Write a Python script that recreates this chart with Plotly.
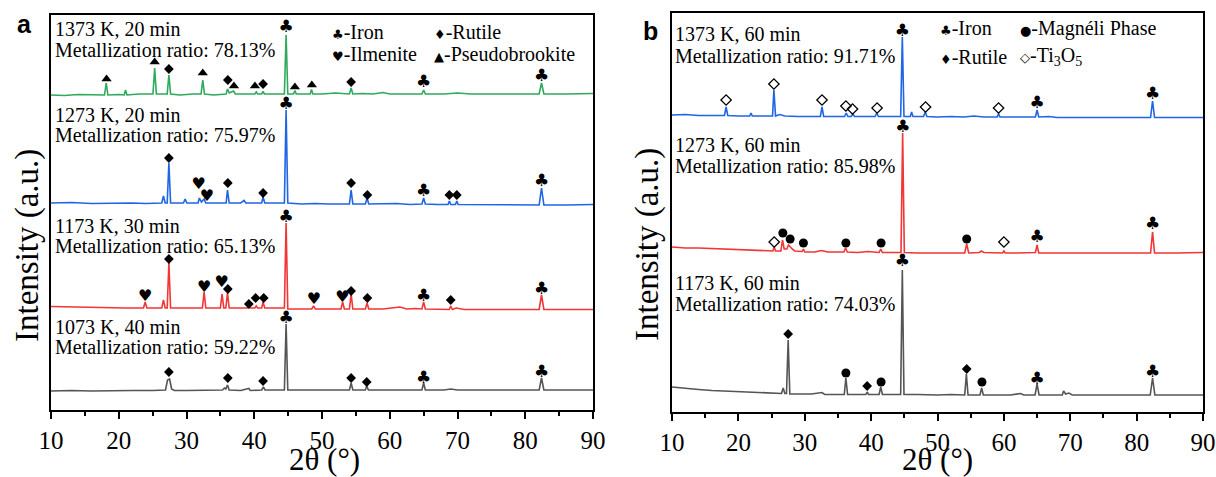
import plotly.graph_objects as go

# ---------------- DATA (2theta in degrees, intensity in arbitrary stacked units) ----------------
# Panel a
A1373_20 = [(10, 315), (12, 314.5), (14, 315.5), (16, 315), (17.9, 315), (18.15, 327), (18.4, 315), (20, 315.5),
            (20.8, 315), (21.0, 320), (21.2, 315), (23, 316), (25.05, 316), (25.3, 342), (25.55, 316), (27.15, 316),
            (27.4, 335), (27.65, 316), (29, 315), (31, 316), (32.15, 316), (32.4, 330), (32.65, 316), (34, 315),
            (35.85, 316), (36.05, 321), (36.3, 317), (36.95, 319), (37.2, 316), (39, 316), (40.1, 316), (40.3, 318),
            (40.5, 316), (41.1, 316), (41.3, 318.5), (41.5, 316), (43, 316), (44.45, 316), (44.7, 375), (44.95, 316),
            (45.8, 316), (46.0, 319.5), (46.2, 316), (47.5, 316), (48.25, 316), (48.45, 320.5), (48.65, 316), (50, 316),
            (52, 317), (54.05, 316), (54.3, 322), (54.55, 316), (56, 316.5), (57.5, 316), (59, 317.5), (60, 316),
            (62, 316), (64.75, 316), (65.0, 320), (65.25, 316), (68, 316), (70, 317), (72, 316), (75, 316), (78, 316),
            (82.05, 316), (82.4, 327), (82.75, 316), (86, 316), (90, 316.5)]
A1273_20 = [(10, 207), (13, 207.5), (16, 206.5), (19, 207), (22, 207), (24, 206.5), (26.35, 207), (26.6, 214),
            (26.85, 207), (27.15, 207), (27.4, 247), (27.65, 207), (29.55, 207), (29.8, 211), (30.05, 207),
            (31.7, 207), (31.9, 212), (32.2, 208), (32.6, 211), (32.85, 207), (34, 207), (35.85, 207), (36.05, 220),
            (36.3, 207), (38, 207), (38.5, 209.5), (38.75, 207), (40, 207), (41.1, 207), (41.3, 213), (41.55, 207),
            (43, 207), (44.45, 207), (44.7, 300), (44.95, 207), (47, 206), (49, 206.5), (51, 206), (52.5, 206),
            (54.05, 206), (54.3, 220), (54.55, 206), (56.4, 206), (56.65, 212), (56.9, 206), (59, 206), (61, 206.5),
            (63, 205.5), (64.75, 206), (65.0, 212), (65.25, 206), (67, 205.5), (68.6, 205.5), (68.8, 209),
            (69.0, 205.5), (69.7, 205.5), (69.9, 209), (70.1, 205.5), (73, 205.5), (76, 205), (79, 205.5),
            (82.05, 205), (82.4, 222), (82.75, 205), (86, 205), (90, 205.5)]
A1173_30 = [(10, 103.5), (13, 103), (16, 102.5), (19, 102), (21, 102), (23.65, 102), (23.9, 108), (24.15, 102),
            (26.35, 102), (26.6, 110), (26.85, 102), (27.15, 102), (27.4, 147), (27.65, 102), (29, 102), (31, 102),
            (32.35, 102), (32.6, 118), (32.85, 102), (35.0, 102), (35.25, 116), (35.5, 102), (35.8, 102),
            (36.05, 117), (36.3, 102), (38, 102), (39.0, 102), (39.2, 103.5), (39.4, 102), (40.1, 102), (40.3, 104),
            (40.5, 102), (41.1, 102), (41.3, 108), (41.55, 102), (43, 102), (44.45, 102), (44.7, 187), (44.95, 101),
            (47, 101), (48.5, 101), (48.75, 104), (49.0, 101), (51, 101), (52.8, 101), (53.05, 108), (53.3, 101),
            (54.05, 101), (54.3, 116), (54.55, 101), (56.4, 101), (56.65, 107), (56.9, 101), (59, 101), (61.5, 103),
            (62.5, 101), (63.8, 101.5), (64.75, 101), (65.0, 108), (65.25, 101), (67, 100.5), (68.8, 100.5),
            (69.0, 104), (69.25, 100.5), (69.8, 102), (71, 100.5), (75, 100.5), (79, 100.5), (82.05, 100.5),
            (82.4, 115), (82.75, 100.5), (86, 100.5), (90, 100.5)]
A1073_40 = [(10, 19), (13, 19.5), (16, 19), (19, 19.5), (22, 19.5), (25, 19.5), (26.9, 20), (27.2, 30), (27.5, 31),
            (27.8, 21), (28.2, 19.5), (30, 19.5), (33, 19.5), (35.3, 20), (35.6, 22), (35.8, 21), (36.05, 25),
            (36.3, 20), (38, 19.5), (39.2, 21.5), (39.4, 19.5), (41.1, 20), (41.35, 23), (41.6, 20), (43, 20),
            (44.45, 20), (44.7, 86), (44.95, 20), (47, 20), (50, 20), (52, 20.5), (54.05, 20), (54.3, 27),
            (54.55, 20), (56.4, 20), (56.6, 24), (56.85, 20), (59, 20), (62, 20), (64.75, 20), (65.0, 27),
            (65.25, 20), (68, 20), (69, 21), (70, 20), (74, 20), (78, 20), (82.05, 20), (82.4, 32), (82.75, 20),
            (86, 20), (90, 20)]

# Panel b
B1373_60 = [(10, 297), (12, 297.5), (14, 296.5), (16, 296.5), (17.9, 296.5), (18.15, 305), (18.4, 296.5), (20, 296),
            (21.7, 296), (21.9, 299), (22.1, 296), (24, 296), (25.15, 296), (25.35, 322), (25.6, 296), (26.2, 297.5),
            (27, 296), (29, 295.5), (31, 295.5), (32.35, 295.5), (32.6, 305), (32.85, 295.5), (34, 295.5),
            (36.0, 295.5), (36.25, 299), (36.5, 295.5), (37.0, 295.5), (37.25, 298), (37.5, 295.5), (39, 295.5),
            (40.6, 295.5), (40.85, 299), (41.1, 295.5), (42.5, 295.5), (44.45, 295.5), (44.7, 375), (44.95, 295.5),
            (45.9, 295.5), (46.1, 300), (46.3, 295.5), (47.9, 295.5), (48.15, 300), (48.4, 295.5), (50, 295),
            (52, 295.5), (54, 295), (55.5, 296), (57, 295), (59.0, 295), (59.2, 298.5), (59.4, 295), (61, 295),
            (63, 295), (64.75, 295), (65.0, 302), (65.25, 295), (66.8, 295.5), (68, 294.5), (71, 294.5),
            (74, 294.5), (77, 294.5), (80, 294.5), (82.1, 294.5), (82.4, 311), (82.7, 294.5), (86, 294.5), (90, 294.5)]
B1273_60 = [(10, 165), (12, 164), (14, 164), (16, 163.5), (18, 163), (20, 162.5), (22, 162), (24, 161), (25.2, 161),
            (25.4, 165), (25.6, 161), (26.4, 161), (26.65, 172), (26.9, 163), (27.3, 163), (27.55, 167), (27.8, 165),
            (28.1, 163), (28.5, 161), (29.6, 160.5), (29.8, 163), (30.0, 160), (31.5, 160), (32.5, 161.5),
            (33.5, 160), (35.9, 160), (36.15, 164), (36.4, 160), (38, 159.5), (39.5, 160.5), (41.2, 159.5),
            (41.45, 163), (41.7, 159.5), (43, 159.5), (44.5, 159.5), (44.75, 279), (45.0, 159.5), (47, 159),
            (50, 159), (52, 159), (54.1, 159), (54.4, 168), (54.7, 159), (56.3, 159.5), (56.6, 161), (57, 159.5),
            (59.8, 159), (60.0, 161), (60.2, 159), (62, 159), (63.5, 159.5), (64.75, 159.5), (65.0, 167),
            (65.25, 159), (67, 159), (70, 159), (74, 159), (78, 159), (82.1, 159), (82.4, 180), (82.7, 159),
            (86, 159), (90, 159.5)]
B1173_60 = [(10, 25), (12, 23.5), (14, 22.5), (16, 21.5), (18, 21), (20, 20), (22, 19.5), (24, 19), (26.5, 18.5),
            (26.75, 24), (27.0, 18.5), (27.25, 18.5), (27.5, 72), (27.75, 18), (29, 18), (31, 18), (32.6, 19.5),
            (33, 17.5), (35, 17.5), (35.95, 17.5), (36.2, 34), (36.45, 17.5), (38, 17.5), (39.2, 17.5), (39.4, 20),
            (39.6, 17.5), (41.2, 17.5), (41.45, 25), (41.7, 17.5), (43, 17.5), (44.45, 17.5), (44.7, 142),
            (44.95, 17.5), (47, 17.5), (50, 17), (52, 17.5), (54.1, 17), (54.35, 38), (54.6, 17), (56.4, 17),
            (56.65, 24), (56.9, 17), (59, 17), (61, 17), (62.5, 18.5), (63, 17), (64.7, 17), (65.0, 28), (65.3, 17),
            (67, 17), (68.8, 17), (69.0, 21), (69.3, 18), (69.8, 19), (70.3, 17), (73, 17), (77, 17), (80, 17),
            (82.05, 17), (82.4, 34), (82.75, 17), (86, 17), (90, 17)]

# Phase marker positions (2theta, height)
A_IRON = [(44.7, 382), (65.0, 327), (82.4, 333), (44.7, 305), (65.0, 218), (82.4, 228),
          (44.7, 192), (65.0, 113), (82.4, 120), (44.7, 91), (65.0, 31), (82.4, 37)]
A_RUTILE = [(27.4, 341), (36.1, 330), (41.3, 326), (54.3, 328),
            (27.4, 252), (36.1, 227), (41.3, 217), (54.3, 227), (56.7, 215), (68.8, 215), (69.9, 215),
            (27.4, 151), (36.1, 121), (39.2, 106), (40.2, 112), (41.4, 112), (54.3, 119), (56.7, 112), (69.0, 110),
            (27.4, 38), (36.1, 32), (41.3, 29), (54.3, 32), (56.6, 28)]
A_ILMENITE = [(31.8, 225), (33.0, 213), (23.9, 113), (32.6, 122), (35.2, 127), (48.8, 110), (53.0, 112)]
A_PSEUDO = [(18.2, 331), (25.3, 348), (32.4, 337), (37.0, 324), (40.1, 324), (46.0, 323), (48.5, 325)]

B_IRON = [(44.7, 380), (65.0, 308), (82.4, 317), (44.8, 284), (65.0, 174), (82.4, 187),
          (44.7, 150), (65.0, 32), (82.4, 39)]
B_MAGNELI = [(26.7, 179), (27.8, 173), (29.8, 169), (36.2, 169), (41.5, 169), (54.4, 173),
             (36.2, 39), (41.5, 30), (56.7, 30)]
B_RUTILE = [(27.5, 78), (39.4, 26), (54.4, 43)]
B_TI3O5 = [(18.15, 312), (25.35, 328), (32.6, 312), (36.2, 306), (37.2, 303), (40.9, 304), (48.2, 305),
           (59.2, 304), (25.4, 170), (60.0, 170)]

A_LABELS = ["1373 K, 20 min", "Metallization ratio: 78.13%", "1273 K, 20 min", "Metallization ratio: 75.97%",
            "1173 K, 30 min", "Metallization ratio: 65.13%", "1073 K, 40 min", "Metallization ratio: 59.22%"]
B_LABELS = ["1373 K, 60 min", "Metallization ratio: 91.71%", "1273 K, 60 min", "Metallization ratio: 85.98%",
            "1173 K, 60 min", "Metallization ratio: 74.03%"]
X_TICKS = [10, 20, 30, 40, 50, 60, 70, 80, 90]

# ---------------- STYLE / LAYOUT ----------------
W, H = 1216, 477
GREEN, BLUE, RED, GRAY = "#2eaa5c", "#1f66e6", "#f23535", "#555555"
SERIF = "Liberation Serif"


def px(x):
    return x / W


def py(y):
    return 1 - y / H


fig = go.Figure()


def add_pattern(data, color, xa, ya):
    xs = [p[0] for p in data]
    ys = [p[1] for p in data]
    fig.add_trace(go.Scatter(x=xs, y=ys, mode="lines", line=dict(color=color, width=1.6),
                             xaxis=xa, yaxis=ya, hoverinfo="skip"))


def add_markers(data, xa, ya, symbol, size, open_=False):
    xs = [p[0] for p in data]
    ys = [p[1] for p in data]
    m = dict(symbol=symbol, size=size, color="black")
    if open_:
        m["line"] = dict(color="black", width=1.3)
    fig.add_trace(go.Scatter(x=xs, y=ys, mode="markers", marker=m, xaxis=xa, yaxis=ya, hoverinfo="skip"))


def add_glyphs(data, xa, ya, glyph, size):
    xs = [p[0] for p in data]
    ys = [p[1] for p in data]
    fig.add_trace(go.Scatter(x=xs, y=ys, mode="text", text=[glyph] * len(xs), textposition="middle center",
                             textfont=dict(family="DejaVu Sans", size=size, color="black"),
                             xaxis=xa, yaxis=ya, hoverinfo="skip"))


for d, c in [(A1373_20, GREEN), (A1273_20, BLUE), (A1173_30, RED), (A1073_40, GRAY)]:
    add_pattern(d, c, "x", "y")
for d, c in [(B1373_60, BLUE), (B1273_60, RED), (B1173_60, GRAY)]:
    add_pattern(d, c, "x2", "y2")

add_glyphs(A_IRON, "x", "y", "♣", 17)
add_glyphs(A_ILMENITE, "x", "y", "♥", 16)
add_markers(A_RUTILE, "x", "y", "diamond", 7.5)
add_markers(A_PSEUDO, "x", "y", "triangle-up", 9)
add_glyphs(B_IRON, "x2", "y2", "♣", 17)
add_markers(B_MAGNELI, "x2", "y2", "circle", 9)
add_markers(B_RUTILE, "x2", "y2", "diamond", 7.5)
add_markers(B_TI3O5, "x2", "y2", "diamond-open", 8, open_=True)

xcommon = dict(range=[10, 90], tickvals=X_TICKS, ticks="outside", ticklen=7, tickwidth=2, tickcolor="black",
               showline=True, linecolor="black", linewidth=2, mirror=True, showgrid=False, zeroline=False,
               automargin=False, tickfont=dict(family=SERIF, size=25, color="black"),
               minor=dict(dtick=5, ticks="outside", ticklen=4, tickwidth=2, tickcolor="black", showgrid=False))
ycommon = dict(showline=True, linecolor="black", linewidth=2, mirror=True, showgrid=False, zeroline=False,
               showticklabels=False, ticks="", automargin=False)

fig.update_layout(
    width=W, height=H, margin=dict(l=0, r=0, t=0, b=0, autoexpand=False), paper_bgcolor="white",
    plot_bgcolor="white", showlegend=False,
    xaxis=dict(domain=[px(51), px(593)], anchor="y", **xcommon),
    yaxis=dict(domain=[py(410), py(15)], range=[0, 395], anchor="x", **ycommon),
    xaxis2=dict(domain=[px(672), px(1203)], anchor="y2", **xcommon),
    yaxis2=dict(domain=[py(412), py(13)], range=[0, 399], anchor="x2", **ycommon),
)

ann = []


def text(t, x, y, size=20, xanchor="left", family=SERIF, bold=False, angle=0):
    ann.append(dict(text=("<b>%s</b>" % t) if bold else t, x=px(x), y=py(y), xref="paper", yref="paper",
                    xanchor=xanchor, yanchor="middle", showarrow=False, textangle=angle,
                    font=dict(family=family, size=size, color="black")))


a_y = [29, 50, 115, 135, 226, 246, 327, 347]
for t, yy in zip(A_LABELS, a_y):
    text(t, 53, yy)
b_y = [34, 56, 145, 166, 283, 304]
for t, yy in zip(B_LABELS, b_y):
    text(t, 673, yy)


def sym(s):
    return "<span style='font-family:DejaVu Sans;font-size:13px'>%s</span>" % s


text(sym("♣") + "-Iron", 330, 32)
text(sym("♦") + "-Rutile", 432, 32)
text(sym("♥") + "-Ilmenite", 330, 54)
text(sym("▲") + "-Pseudobrookite", 432, 54)
text(sym("♣") + "-Iron", 938, 28)
text(sym("●") + "-Magnéli Phase", 1018, 28)
text(sym("♦") + "-Rutile", 938, 57)
text(sym("◇") + "-Ti<sub>3</sub>O<sub>5</sub>", 1018, 57)

text("a", 24, 24, size=25, xanchor="center", family="Liberation Sans", bold=True)
text("b", 650, 31, size=25, xanchor="center", family="Liberation Sans", bold=True)

text("Intensity (a.u.)", 27, 246, size=33, xanchor="center", angle=-90)
text("Intensity (a.u.)", 648, 245, size=33, xanchor="center", angle=-90)
text("2θ (°)", 324, 459, size=31, xanchor="center")
text("2θ (°)", 937, 459, size=31, xanchor="center")

fig.update_layout(annotations=ann)
fig.write_html("out.html")
